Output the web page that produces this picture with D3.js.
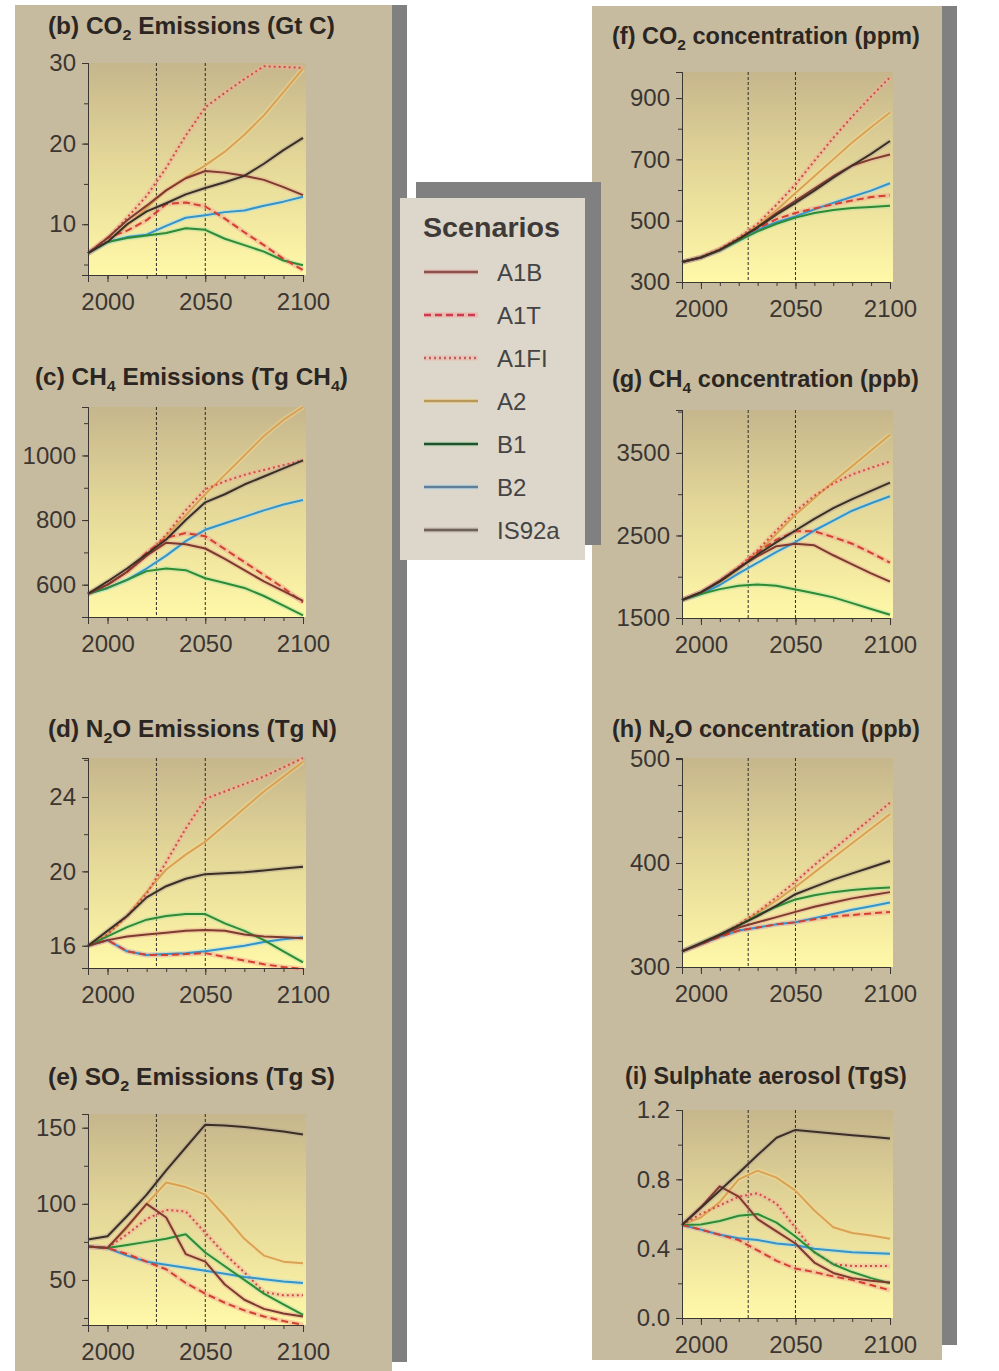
<!DOCTYPE html>
<html>
<head>
<meta charset="utf-8">
<script src="https://cdn.jsdelivr.net/npm/d3@7"></script>
<style>
  body { margin: 0; background: #fff; }
  svg { display: block; font-family: "Liberation Sans", Arial, Helvetica, sans-serif; }
</style>
</head>
<body>
<div id="chart"></div>
<script>
// years on the x axis (decadal points)
const years = [1990, 2000, 2010, 2020, 2030, 2040, 2050, 2060, 2070, 2080, 2090, 2100];
const scenarios = ["A1B", "A1T", "A1FI", "A2", "B1", "B2", "IS92a"];
const drawOrder = ["A2", "A1FI", "B2", "B1", "A1T", "A1B", "IS92a"];
const xTicks = [2000, 2050, 2100];
const markYears = [2025, 2050];

// (b) CO2 emissions, Gt C
const co2Emissions = {
  A1B:   [6.4, 8.3, 10.5, 12.3, 14.2, 15.7, 16.6, 16.4, 16.0, 15.5, 14.6, 13.6],
  A1T:   [6.4, 8.3, 9.2, 10.5, 12.5, 12.7, 12.2, 10.7, 9.0, 7.4, 5.7, 4.3],
  A1FI:  [6.4, 8.2, 10.8, 13.5, 17.0, 21.0, 24.5, 26.3, 28.0, 29.6, 29.5, 29.4],
  A2:    [6.4, 7.9, 9.8, 12.0, 14.2, 15.8, 17.3, 19.0, 21.1, 23.5, 26.4, 29.3],
  B1:    [6.4, 7.8, 8.3, 8.6, 8.9, 9.5, 9.3, 8.2, 7.4, 6.6, 5.5, 4.9],
  B2:    [6.4, 7.8, 8.4, 8.7, 9.8, 10.8, 11.1, 11.5, 11.7, 12.3, 12.8, 13.4],
  IS92a: [6.4, 7.8, 10.0, 11.6, 12.6, 13.7, 14.5, 15.2, 16.0, 17.5, 19.2, 20.7]
};

// (c) CH4 emissions, Tg CH4
const ch4Emissions = {
  A1B:   [572, 600, 640, 690, 730, 725, 712, 680, 645, 610, 580, 550],
  A1T:   [572, 600, 640, 700, 745, 760, 750, 710, 670, 630, 590, 545],
  A1FI:  [572, 600, 640, 690, 755, 830, 895, 920, 940, 955, 970, 985],
  A2:    [572, 600, 640, 690, 750, 815, 880, 940, 1000, 1060, 1110, 1150],
  B1:    [572, 590, 615, 642, 650, 645, 620, 605, 590, 565, 535, 505],
  B2:    [572, 590, 615, 650, 690, 735, 770, 790, 810, 830, 848, 862],
  IS92a: [572, 610, 650, 695, 740, 800, 855, 880, 910, 935, 960, 985]
};

// (d) N2O emissions, Tg N
const n2oEmissions = {
  A1B:   [16.0, 16.3, 16.5, 16.6, 16.7, 16.8, 16.85, 16.8, 16.6, 16.5, 16.45, 16.4],
  A1T:   [16.0, 16.3, 15.7, 15.5, 15.5, 15.55, 15.6, 15.4, 15.2, 15.0, 14.85, 14.75],
  A1FI:  [16.0, 16.6, 17.6, 18.8, 20.5, 22.3, 23.9, 24.3, 24.7, 25.1, 25.6, 26.1],
  A2:    [16.0, 16.6, 17.6, 18.9, 20.1, 20.9, 21.6, 22.5, 23.4, 24.3, 25.1, 25.9],
  B1:    [16.0, 16.5, 17.0, 17.4, 17.6, 17.7, 17.7, 17.2, 16.8, 16.3, 15.7, 15.1],
  B2:    [16.0, 16.3, 15.7, 15.5, 15.55, 15.6, 15.7, 15.85, 16.0, 16.2, 16.35, 16.45],
  IS92a: [16.0, 16.8, 17.6, 18.6, 19.2, 19.6, 19.85, 19.9, 19.95, 20.05, 20.15, 20.25]
};

// (e) SO2 emissions, Tg S
const so2Emissions = {
  A1B:   [72, 71, 85, 100, 91, 67, 62, 47, 37, 31, 28, 26],
  A1T:   [72, 71, 67, 62, 57, 48, 41, 35, 30, 26, 23, 20.5],
  A1FI:  [72, 71, 80, 90, 96, 95, 81, 67, 55, 42, 40, 40],
  A2:    [72, 71, 84, 100, 114, 111, 106, 92, 77, 66, 62, 61],
  B1:    [72, 71, 73, 75, 77, 80, 68, 59, 50, 41, 34, 27],
  B2:    [72, 71, 66, 62, 60, 58, 56, 54, 52, 50.5, 49, 48],
  IS92a: [76.5, 78.7, 92, 106, 122, 137, 152, 151.5, 150.5, 149, 147.5, 145.6]
};

// (f) CO2 concentration, ppm
const co2Conc = {
  A1B:   [365, 380, 405, 440, 480, 525, 565, 605, 645, 680, 700, 716],
  A1T:   [365, 380, 405, 440, 475, 505, 525, 540, 553, 566, 577, 583],
  A1FI:  [365, 382, 408, 445, 490, 552, 618, 695, 770, 840, 905, 968],
  A2:    [365, 382, 408, 443, 485, 535, 590, 645, 700, 755, 805, 853],
  B1:    [365, 380, 403, 435, 465, 490, 510, 525, 535, 541, 545, 549],
  B2:    [365, 380, 403, 435, 470, 495, 514, 537, 558, 578, 598, 622],
  IS92a: [365, 380, 405, 440, 478, 520, 558, 598, 640, 680, 718, 760]
};

// (g) CH4 concentration, ppb
const ch4Conc = {
  A1B:   [1718, 1810, 1950, 2110, 2250, 2370, 2400, 2380, 2260, 2150, 2040, 1940],
  A1T:   [1718, 1810, 1950, 2110, 2300, 2450, 2550, 2550, 2480, 2400, 2290, 2170],
  A1FI:  [1718, 1810, 1950, 2120, 2320, 2560, 2790, 2980, 3130, 3240, 3320, 3395],
  A2:    [1718, 1800, 1930, 2090, 2290, 2520, 2750, 2950, 3150, 3340, 3530, 3720],
  B1:    [1718, 1790, 1850, 1890, 1905, 1890, 1845, 1800, 1750, 1680, 1610, 1540],
  B2:    [1718, 1790, 1900, 2040, 2170, 2300, 2420, 2560, 2680, 2800, 2890, 2975],
  IS92a: [1718, 1810, 1940, 2100, 2270, 2420, 2560, 2700, 2830, 2940, 3040, 3140]
};

// (h) N2O concentration, ppb
const n2oConc = {
  A1B:   [315, 322, 330, 338, 343, 348, 353, 358, 362, 366, 369, 372],
  A1T:   [315, 322, 329, 335, 338, 341, 343, 346, 348.5, 350, 351.5, 353],
  A1FI:  [315, 323, 331, 341, 353, 367, 382, 398, 413, 428, 443, 458],
  A2:    [315, 323, 331, 341, 352, 364, 377, 391, 405, 419, 433, 447],
  B1:    [315, 323, 331, 340, 350, 358, 365, 369, 372, 374, 375.5, 376.5],
  B2:    [315, 322, 329, 335, 338, 341, 343, 347, 351, 355, 358.5, 362],
  IS92a: [315, 323, 331, 340, 349, 359, 370, 377, 384, 390, 396, 402]
};

// (i) sulphate aerosol, TgS
const sulphate = {
  A1B:   [0.537, 0.64, 0.76, 0.70, 0.57, 0.50, 0.43, 0.32, 0.26, 0.23, 0.215, 0.205],
  A1T:   [0.537, 0.51, 0.48, 0.45, 0.39, 0.33, 0.285, 0.265, 0.24, 0.22, 0.19, 0.16],
  A1FI:  [0.537, 0.60, 0.65, 0.70, 0.72, 0.66, 0.52, 0.38, 0.31, 0.30, 0.30, 0.30],
  A2:    [0.537, 0.58, 0.67, 0.80, 0.85, 0.81, 0.735, 0.62, 0.524, 0.49, 0.476, 0.457],
  B1:    [0.537, 0.54, 0.56, 0.59, 0.60, 0.55, 0.47, 0.38, 0.31, 0.265, 0.23, 0.20],
  B2:    [0.537, 0.51, 0.48, 0.46, 0.45, 0.43, 0.42, 0.40, 0.39, 0.38, 0.375, 0.37],
  IS92a: [0.537, 0.636, 0.735, 0.837, 0.94, 1.04, 1.085, 1.075, 1.065, 1.055, 1.045, 1.035]
};

// line styles
const lineColor = { A1B: "#7d3b2e", A1T: "#d2402f", A1FI: "#cf4f3c", A2: "#d9a255", B1: "#2f8a35", B2: "#3493c8", IS92a: "#3b2f25" };
const haloColor = { A1B: "#e8a594", A1T: "#f3a090", A1FI: "#f2b0a0", A2: "#f7dc96", B1: "#a8e0a0", B2: "#a4dcf2", IS92a: "#b0a090" };
const dashes = { A1T: "7,4", A1FI: "2,3" };
const legendColor = { A1B: "#8a5050", A1T: "#cc3a55", A1FI: "#c06060", A2: "#b8985a", B1: "#1f5030", B2: "#5f7e98", IS92a: "#6e6258" };

const W = 999, H = 1371;
const svg = d3.select("#chart").append("svg").attr("width", W).attr("height", H);

// gradient for plot areas
const defs = svg.append("defs");
const grad = defs.append("linearGradient").attr("id", "plotbg")
  .attr("x1", 0).attr("y1", 0).attr("x2", 0).attr("y2", 1);
grad.append("stop").attr("offset", "0%").attr("stop-color", "#c6b68c");
grad.append("stop").attr("offset", "45%").attr("stop-color", "#e3d697");
grad.append("stop").attr("offset", "100%").attr("stop-color", "#fff8a8");

// panel backgrounds and shadows
svg.append("rect").attr("x", 392).attr("y", 5).attr("width", 15).attr("height", 1357).attr("fill", "#808080");
svg.append("rect").attr("x", 15).attr("y", 5).attr("width", 377).attr("height", 1366).attr("fill", "#c7bb9f");
svg.append("rect").attr("x", 942).attr("y", 6).attr("width", 15).attr("height", 1339).attr("fill", "#808080");
svg.append("rect").attr("x", 592).attr("y", 6).attr("width", 350).attr("height", 1354).attr("fill", "#c7bb9f");

const left = { x0: 88, x1: 303 }, right = { x0: 682, x1: 890 };

const panels = [
  { data: co2Emissions, col: left, top: 63, bottom: 275, domain: [3.7, 30], ticks: [10, 20, 30], minor: 5, fmt: "d",
    title: [["(b) CO"], ["2", 1], [" Emissions (Gt C)"]], tx: 48, ty: 34, tw: 287 },
  { data: ch4Emissions, col: left, top: 407, bottom: 617, domain: [500, 1150], ticks: [600, 800, 1000], minor: 100, fmt: "d",
    title: [["(c) CH"], ["4", 1], [" Emissions (Tg CH"], ["4", 1], [")"]], tx: 35, ty: 385, tw: 313 },
  { data: n2oEmissions, col: left, top: 758, bottom: 968, domain: [14.8, 26.1], ticks: [16, 20, 24], minor: 2, fmt: "d",
    title: [["(d) N"], ["2", 1], ["O Emissions (Tg N)"]], tx: 48, ty: 737, tw: 289 },
  { data: so2Emissions, col: left, top: 1114, bottom: 1325, domain: [20.4, 159], ticks: [50, 100, 150], minor: 25, fmt: "d",
    title: [["(e) SO"], ["2", 1], [" Emissions (Tg S)"]], tx: 48, ty: 1085, tw: 287 },
  { data: co2Conc, col: right, top: 72, bottom: 282, domain: [300, 985], ticks: [300, 500, 700, 900], minor: 100, fmt: "d",
    title: [["(f) CO"], ["2", 1], [" concentration (ppm)"]], tx: 612, ty: 44, tw: 308 },
  { data: ch4Conc, col: right, top: 410, bottom: 618, domain: [1500, 4020], ticks: [1500, 2500, 3500], minor: 500, fmt: "d",
    title: [["(g) CH"], ["4", 1], [" concentration (ppb)"]], tx: 612, ty: 387, tw: 307 },
  { data: n2oConc, col: right, top: 758, bottom: 967, domain: [300, 501], ticks: [300, 400, 500], minor: 25, fmt: "d",
    title: [["(h) N"], ["2", 1], ["O concentration (ppb)"]], tx: 612, ty: 737, tw: 308 },
  { data: sulphate, col: right, top: 1110, bottom: 1318, domain: [0, 1.2], ticks: [0, 0.4, 0.8, 1.2], minor: 0.2, fmt: ".1f",
    title: [["(i) Sulphate aerosol (TgS)"]], tx: 625, ty: 1084, tw: 282 }
];

function addTitle(parent, parts, x, y, w, size) {
  const g = parent.append("g").attr("transform", `translate(${x},${y})`);
  const t = g.append("text").attr("font-size", size).attr("font-weight", "bold").attr("fill", "#2b2622");
  let prevSub = false;
  parts.forEach(([s, sub]) => {
    if (sub) {
      t.append("tspan").attr("font-size", size * 0.66).attr("dy", prevSub ? 0 : 6).text(s);
    } else {
      t.append("tspan").attr("dy", prevSub ? -6 : 0).text(s);
    }
    prevSub = !!sub;
  });
  const bw = t.node().getBBox().width;
  t.attr("transform", `scale(${w / bw},1)`);
}

panels.forEach(p => {
  const x = d3.scaleLinear().domain([1990, 2100]).range([p.col.x0, p.col.x1]);
  const y = d3.scaleLinear().domain(p.domain).range([p.bottom, p.top]);
  const g = svg.append("g");

  g.append("rect")
    .attr("x", p.col.x0).attr("y", p.top)
    .attr("width", p.col.x1 - p.col.x0 + 3).attr("height", p.bottom - p.top)
    .attr("fill", "url(#plotbg)");

  // dashed marker years
  g.selectAll("line.mark").data(markYears).enter().append("line")
    .attr("x1", d => x(d)).attr("x2", d => x(d))
    .attr("y1", p.top).attr("y2", p.bottom)
    .attr("stroke", "#2f2a25").attr("stroke-width", 1).attr("stroke-dasharray", "3,2");

  // scenario lines
  const line = d3.line().x((d, i) => x(years[i])).y(d => y(d));
  drawOrder.forEach(s => {
    g.append("path").attr("d", line(p.data[s]))
      .attr("fill", "none").attr("stroke", haloColor[s]).attr("stroke-width", 5)
      .attr("stroke-opacity", 0.45).attr("stroke-linejoin", "round");
  });
  drawOrder.forEach(s => {
    g.append("path").attr("d", line(p.data[s]))
      .attr("fill", "none").attr("stroke", lineColor[s]).attr("stroke-width", 2)
      .attr("stroke-dasharray", dashes[s] || null).attr("stroke-linejoin", "round");
  });

  // axes
  const minors = d3.range(p.domain[0] - (p.domain[0] % p.minor) , p.domain[1] + 1e-9, p.minor)
    .filter(v => v >= p.domain[0] - 1e-9);
  g.append("g").attr("transform", `translate(${p.col.x0},0)`)
    .call(d3.axisLeft(y).tickValues(minors).tickSize(4).tickFormat(""))
    .call(a => a.selectAll("line,path").attr("stroke", "#3a3632"));
  g.append("g").attr("transform", `translate(${p.col.x0},0)`)
    .call(d3.axisLeft(y).tickValues(p.ticks).tickSize(6).tickPadding(6).tickFormat(d3.format(p.fmt)))
    .call(a => a.select(".domain").attr("stroke", "#3a3632"))
    .call(a => a.selectAll("line").attr("stroke", "#3a3632"))
    .call(a => a.selectAll("text").attr("font-size", 24).attr("fill", "#3b3631")
      .attr("font-family", "'Liberation Sans', Arial, sans-serif"));

  g.append("g").attr("transform", `translate(0,${p.bottom})`)
    .call(d3.axisBottom(x).tickValues(d3.range(1990, 2101, 10)).tickSize(4).tickFormat(""))
    .call(a => a.selectAll("line,path").attr("stroke", "#3a3632"));
  g.append("g").attr("transform", `translate(0,${p.bottom})`)
    .call(d3.axisBottom(x).tickValues(xTicks).tickSize(7).tickPadding(11).tickFormat(d3.format("d")))
    .call(a => a.select(".domain").attr("stroke", "#3a3632"))
    .call(a => a.selectAll("line").attr("stroke", "#3a3632"))
    .call(a => a.selectAll("text").attr("font-size", 24).attr("fill", "#3b3631")
      .attr("font-family", "'Liberation Sans', Arial, sans-serif"));

  addTitle(svg, p.title, p.tx, p.ty, p.tw, 23);
});

// legend box
svg.append("rect").attr("x", 416).attr("y", 182).attr("width", 185).attr("height", 363).attr("fill", "#808080");
svg.append("rect").attr("x", 400).attr("y", 198).attr("width", 185).attr("height", 362).attr("fill", "#ddd6ca");
const lg = svg.append("g");
const st = lg.append("text").attr("x", 0).attr("y", 0).attr("font-size", 27).attr("font-weight", "bold")
  .attr("fill", "#3d3a37").text("Scenarios");
const sw = st.node().getBBox().width;
st.attr("transform", `translate(423,237) scale(${137 / sw},1)`);

const rowY = d3.scalePoint().domain(scenarios).range([272, 530]);
scenarios.forEach(s => {
  lg.append("line").attr("x1", 424).attr("x2", 478).attr("y1", rowY(s)).attr("y2", rowY(s))
    .attr("stroke", haloColor[s]).attr("stroke-width", 5).attr("stroke-opacity", 0.5);
  lg.append("line").attr("x1", 424).attr("x2", 478).attr("y1", rowY(s)).attr("y2", rowY(s))
    .attr("stroke", legendColor[s]).attr("stroke-width", 2.5)
    .attr("stroke-dasharray", dashes[s] || null);
  lg.append("text").attr("x", 497).attr("y", rowY(s)).attr("dy", "0.36em")
    .attr("font-size", 24).attr("fill", "#444").text(s);
});
</script>
</body>
</html>
